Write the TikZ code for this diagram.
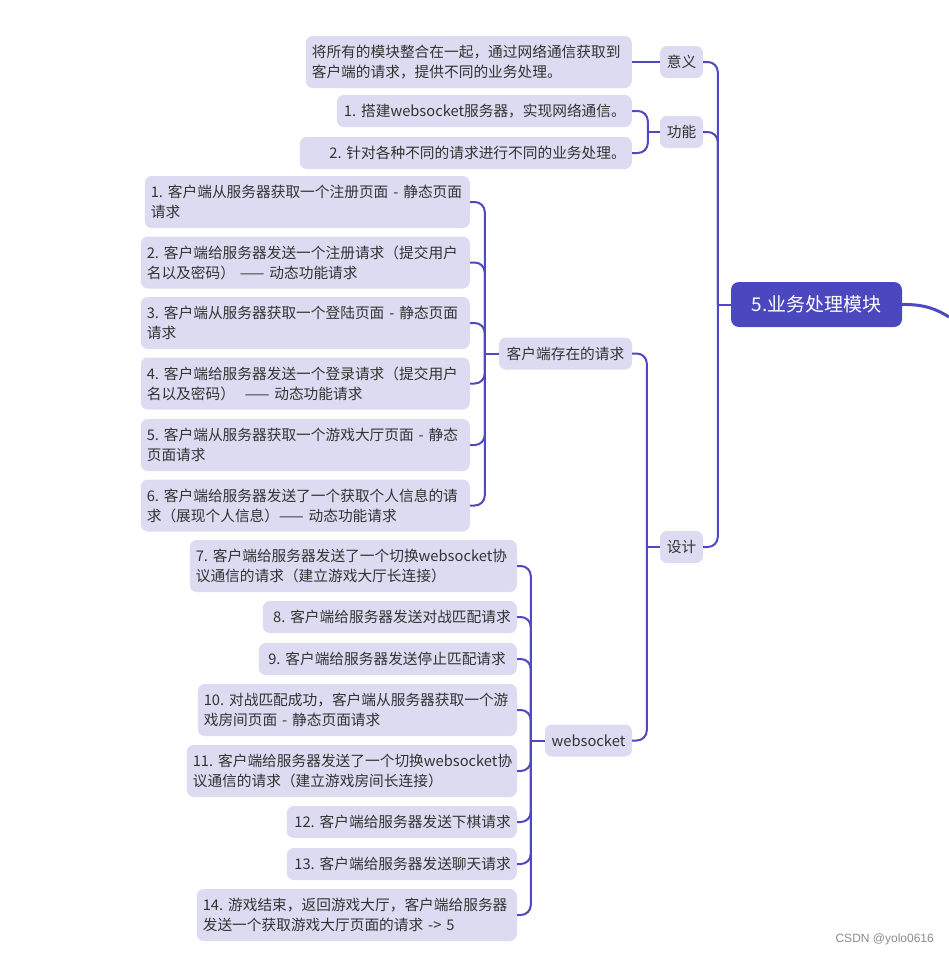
\documentclass[tikz,border=0pt]{standalone}
\usepackage{fontspec}
\setmainfont{Noto Sans CJK SC}
\newfontfamily\wmfont{Liberation Sans}
\usetikzlibrary{calc}
\definecolor{lnc}{HTML}{5048C0}
\definecolor{boxc}{HTML}{DCDBF1}
\definecolor{rootc}{HTML}{4B48BF}
\definecolor{txt}{HTML}{333333}
\newcommand\Lrow[1]{\mbox{#1}}
\frenchspacing
\begin{document}
\begin{tikzpicture}[x=1pt,y=-1pt,
  box/.style={fill=boxc, rounded corners=7pt, text=txt, font=\fontsize{14.7}{20}\selectfont\frenchspacing, inner xsep=6pt, inner ysep=0pt},
  lbox/.style={box, anchor=east, align=left},
  rbox/.style={box, anchor=east, align=right},
  tag/.style={box, inner xsep=0pt, anchor=center, minimum height=32pt},
  conn/.style={draw=lnc, line width=2pt, rounded corners=10pt}]
\useasboundingbox (0,0) rectangle (949,956);
\fill[white] (0,0) rectangle (949,956);

% root
\node[fill=rootc, rounded corners=8pt, text=white, font=\fontsize{19}{22}\selectfont, minimum width=171pt, minimum height=45pt, inner sep=0pt] (root) at (816.5,304.5) {5.业务处理模块};

% level 1
\node[tag, minimum width=43pt] (yiyi) at (681.5,62) {意义};
\node[tag, minimum width=43pt] (gn) at (681.5,132) {功能};
\node[tag, minimum width=43pt] (sj) at (681.5,547) {设计};

% 意义 child
\node[lbox, text width=314pt, minimum height=52pt] (m0) at (632,62) {\Lrow{将所有的模块整合在一起，通过网络通信获取到}\\\Lrow{客户端的请求，提供不同的业务处理。}};

% 功能 children
\node[rbox, text width=283pt, minimum height=32pt] (f1) at (632,111) {\Lrow{1. 搭建websocket服务器，实现网络通信。}};
\node[rbox, text width=320pt, minimum height=32pt] (f2) at (632,153) {\Lrow{2. 针对各种不同的请求进行不同的业务处理。}};

% 设计 children
\node[tag, minimum width=133pt] (req) at (565.5,353.5) {客户端存在的请求};
\node[tag, minimum width=87pt] (ws) at (588.5,740.5) {websocket};

% requests
\node[lbox, text width=313pt, minimum height=52pt] (r1) at (470,202) {\Lrow{1. 客户端从服务器获取一个注册页面 - 静态页面}\\\Lrow{请求}};
\node[lbox, text width=317pt, minimum height=52pt] (r2) at (470,262.5) {\Lrow{2. 客户端给服务器发送一个注册请求（提交用户}\\\Lrow{名以及密码） —— 动态功能请求}};
\node[lbox, text width=317pt, minimum height=52pt] (r3) at (470,323) {\Lrow{3. 客户端从服务器获取一个登陆页面 - 静态页面}\\\Lrow{请求}};
\node[lbox, text width=317pt, minimum height=52pt] (r4) at (470,383.5) {\Lrow{4. 客户端给服务器发送一个登录请求（提交用户}\\\Lrow{名以及密码）~~—— 动态功能请求}};
\node[lbox, text width=317pt, minimum height=52pt] (r5) at (470,445) {\Lrow{5. 客户端从服务器获取一个游戏大厅页面 - 静态}\\\Lrow{页面请求}};
\node[lbox, text width=317pt, minimum height=52pt] (r6) at (470,505.5) {\Lrow{6. 客户端给服务器发送了一个获取个人信息的请}\\\Lrow{求（展现个人信息）—— 动态功能请求}};

% websocket children
\node[lbox, text width=315pt, minimum height=52pt] (w7) at (517,566) {\Lrow{7. 客户端给服务器发送了一个切换websocket协}\\\Lrow{议通信的请求（建立游戏大厅长连接）}};
\node[rbox, text width=242pt, minimum height=32pt] (w8) at (517,617) {\Lrow{8. 客户端给服务器发送对战匹配请求}};
\node[rbox, text width=246pt, minimum height=32pt] (w9) at (517,659) {\Lrow{9. 客户端给服务器发送停止匹配请求~}};
\node[lbox, text width=307pt, minimum height=52pt] (w10) at (517,710) {\Lrow{10. 对战匹配成功，客户端从服务器获取一个游}\\\Lrow{戏房间页面 - 静态页面请求}};
\node[lbox, text width=318pt, minimum height=52pt] (w11) at (517,771) {\Lrow{11. 客户端给服务器发送了一个切换websocket协}\\\Lrow{议通信的请求（建立游戏房间长连接）}};
\node[rbox, text width=218pt, minimum height=32pt] (w12) at (517,822) {\Lrow{12. 客户端给服务器发送下棋请求}};
\node[rbox, text width=218pt, minimum height=32pt] (w13) at (517,864) {\Lrow{13. 客户端给服务器发送聊天请求}};
\node[lbox, text width=308pt, minimum height=52pt] (w14) at (517,915) {\Lrow{14. 游戏结束，返回游戏大厅，客户端给服务器}\\\Lrow{发送一个获取游戏大厅页面的请求 -> 5}};

% trunks
\coordinate (tR) at ($(root.west)+(-13,0)$);
\coordinate (tF) at ($(gn.west)+(-12,0)$);
\coordinate (tS) at ($(sj.west)+(-13,0)$);
\coordinate (tQ) at ($(req.west)+(-14,0)$);
\coordinate (tW) at ($(ws.west)+(-14,0)$);

% connectors root
\foreach \c in {yiyi,gn,sj} \draw[conn] (\c.east) -| (tR);
\draw[conn] (tR) -- (root.west);
% 意义
\draw[conn] (m0.east) -- (yiyi.west);
% 功能
\foreach \c in {f1,f2} \draw[conn] (\c.east) -| (tF);
\draw[conn] (tF) -- (gn.west);
% 设计
\foreach \c in {req,ws} \draw[conn] (\c.east) -| (tS);
\draw[conn] (tS) -- (sj.west);
% requests
\foreach \c in {r1,r2,r3,r4,r5,r6} \draw[conn] (\c.east) -| (tQ);
\draw[conn] (tQ) -- (req.west);
% websocket
\foreach \c in {w7,w8,w9,w10,w11,w12,w13,w14} \draw[conn] (\c.east) -| (tW);
\draw[conn] (tW) -- (ws.west);

% outgoing curve
\coordinate (out) at (949,317);
\draw[draw=lnc, line width=3pt] (root.east) .. controls (925,304) and (938,310) .. (out);

% watermark
\node[font=\wmfont\fontsize{12}{14}\selectfont, text=black!45, anchor=east, inner sep=0pt] (wm) at (934,939) {CSDN @yolo0616};
\end{tikzpicture}
\end{document}
